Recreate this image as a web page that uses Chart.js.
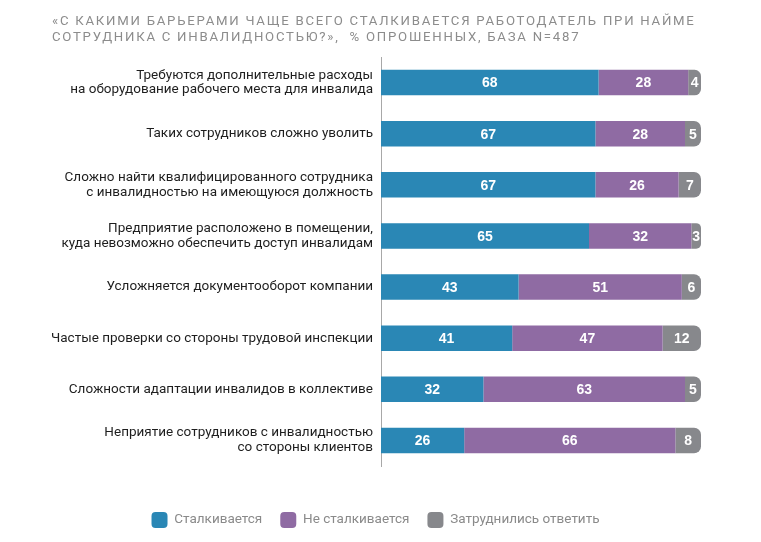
<!DOCTYPE html>
<html lang="ru">
<head>
<meta charset="utf-8">
<script src="https://cdn.jsdelivr.net/npm/chart.js@4/dist/chart.umd.min.js"></script>
<style>
  html, body { margin: 0; padding: 0; background: #fff; }
  #wrap { width: 761px; height: 542px; }
</style>
</head>
<body>
<div id="wrap"><canvas id="chart" width="761" height="542"></canvas></div>
<script>
// Chart data
const categories = [
    ['Требуются дополнительные расходы', 'на оборудование рабочего места для инвалида'],
    'Таких сотрудников сложно уволить',
    ['Сложно найти квалифицированного сотрудника', 'с инвалидностью на имеющуюся должность'],
    ['Предприятие расположено в помещении,', 'куда невозможно обеспечить доступ инвалидам'],
    'Усложняется документооборот компании',
    'Частые проверки со стороны трудовой инспекции',
    'Сложности адаптации инвалидов в коллективе',
    ['Неприятие сотрудников с инвалидностью', 'со стороны клиентов']
];
const seriesNames = ['Сталкивается', 'Не сталкивается', 'Затруднились ответить'];
const faced = [68, 67, 67, 65, 43, 41, 32, 26];
const notFaced = [28, 28, 26, 32, 51, 47, 63, 66];
const hardToSay = [4, 5, 7, 3, 6, 12, 5, 8];
const colors = ['#2a87b5', '#8f6ba3', '#87888c'];
const titleLines = [
    '«С КАКИМИ БАРЬЕРАМИ ЧАЩЕ ВСЕГО СТАЛКИВАЕТСЯ РАБОТОДАТЕЛЬ ПРИ НАЙМЕ',
    'СОТРУДНИКА С ИНВАЛИДНОСТЬЮ?»,  % ОПРОШЕННЫХ, БАЗА N=487'
];

// Spaced-out title (Chart.js title has no letter spacing)
const spacedTitle = {
    id: 'spacedTitle',
    afterDraw(chart) {
        const ctx = chart.ctx;
        ctx.save();
        ctx.font = '13.2px Roboto, sans-serif';
        ctx.letterSpacing = '1.75px';
        ctx.fillStyle = '#8c8c8c';
        ctx.textAlign = 'left';
        ctx.textBaseline = 'middle';
        titleLines.forEach((line, i) => ctx.fillText(line, 52, 22 + i * 16));
        ctx.restore();
    }
};

// Draw numbers inside each segment
const valueLabels = {
    id: 'valueLabels',
    afterDatasetsDraw(chart) {
        const ctx = chart.ctx;
        ctx.save();
        ctx.font = 'bold 14px "Liberation Sans", Arial, sans-serif';
        ctx.fillStyle = '#ffffff';
        ctx.textAlign = 'center';
        ctx.textBaseline = 'middle';
        chart.data.datasets.forEach((ds, i) => {
            chart.getDatasetMeta(i).data.forEach((bar, j) => {
                const c = bar.getCenterPoint();
                ctx.fillText(ds.data[j], c.x, c.y + 1);
            });
        });
        ctx.restore();
    }
};

const ctx = document.getElementById('chart').getContext('2d');
new Chart(ctx, {
    type: 'bar',
    data: {
        labels: categories,
        datasets: [
            { label: seriesNames[0], data: faced, backgroundColor: colors[0] },
            { label: seriesNames[1], data: notFaced, backgroundColor: colors[1] },
            {
                label: seriesNames[2], data: hardToSay, backgroundColor: colors[2],
                borderRadius: { topRight: 7, bottomRight: 7 }, borderSkipped: false
            }
        ]
    },
    options: {
        indexAxis: 'y',
        responsive: false,
        animation: false,
        barPercentage: 0.5,
        categoryPercentage: 1,
        layout: { padding: { left: 50, right: 60, top: 57, bottom: 4 } },
        scales: {
            x: {
                stacked: true, min: 0, max: 100,
                grid: { display: false },
                border: { display: false },
                ticks: { display: false },
                afterFit(scale) { scale.height = 28; }
            },
            y: {
                stacked: true,
                grid: { display: false, drawTicks: false },
                border: { display: true, color: '#a8a8a8', width: 1 },
                ticks: {
                    color: '#1e1e1e',
                    padding: 8,
                    font: { family: 'Roboto, "Liberation Sans", sans-serif', size: 13.5, lineHeight: 1.1 }
                },
                afterFit(scale) { scale.width = 331; }
            }
        },
        plugins: {
            title: { display: false },
            legend: {
                position: 'bottom',
                labels: {
                    color: '#8a8a8a',
                    boxWidth: 16,
                    boxHeight: 16,
                    useBorderRadius: true,
                    borderRadius: 4,
                    padding: 18,
                    font: { family: 'Roboto, "Liberation Sans", sans-serif', size: 13.5 }
                }
            },
            tooltip: { enabled: false }
        }
    },
    plugins: [valueLabels, spacedTitle]
});
</script>
</body>
</html>
